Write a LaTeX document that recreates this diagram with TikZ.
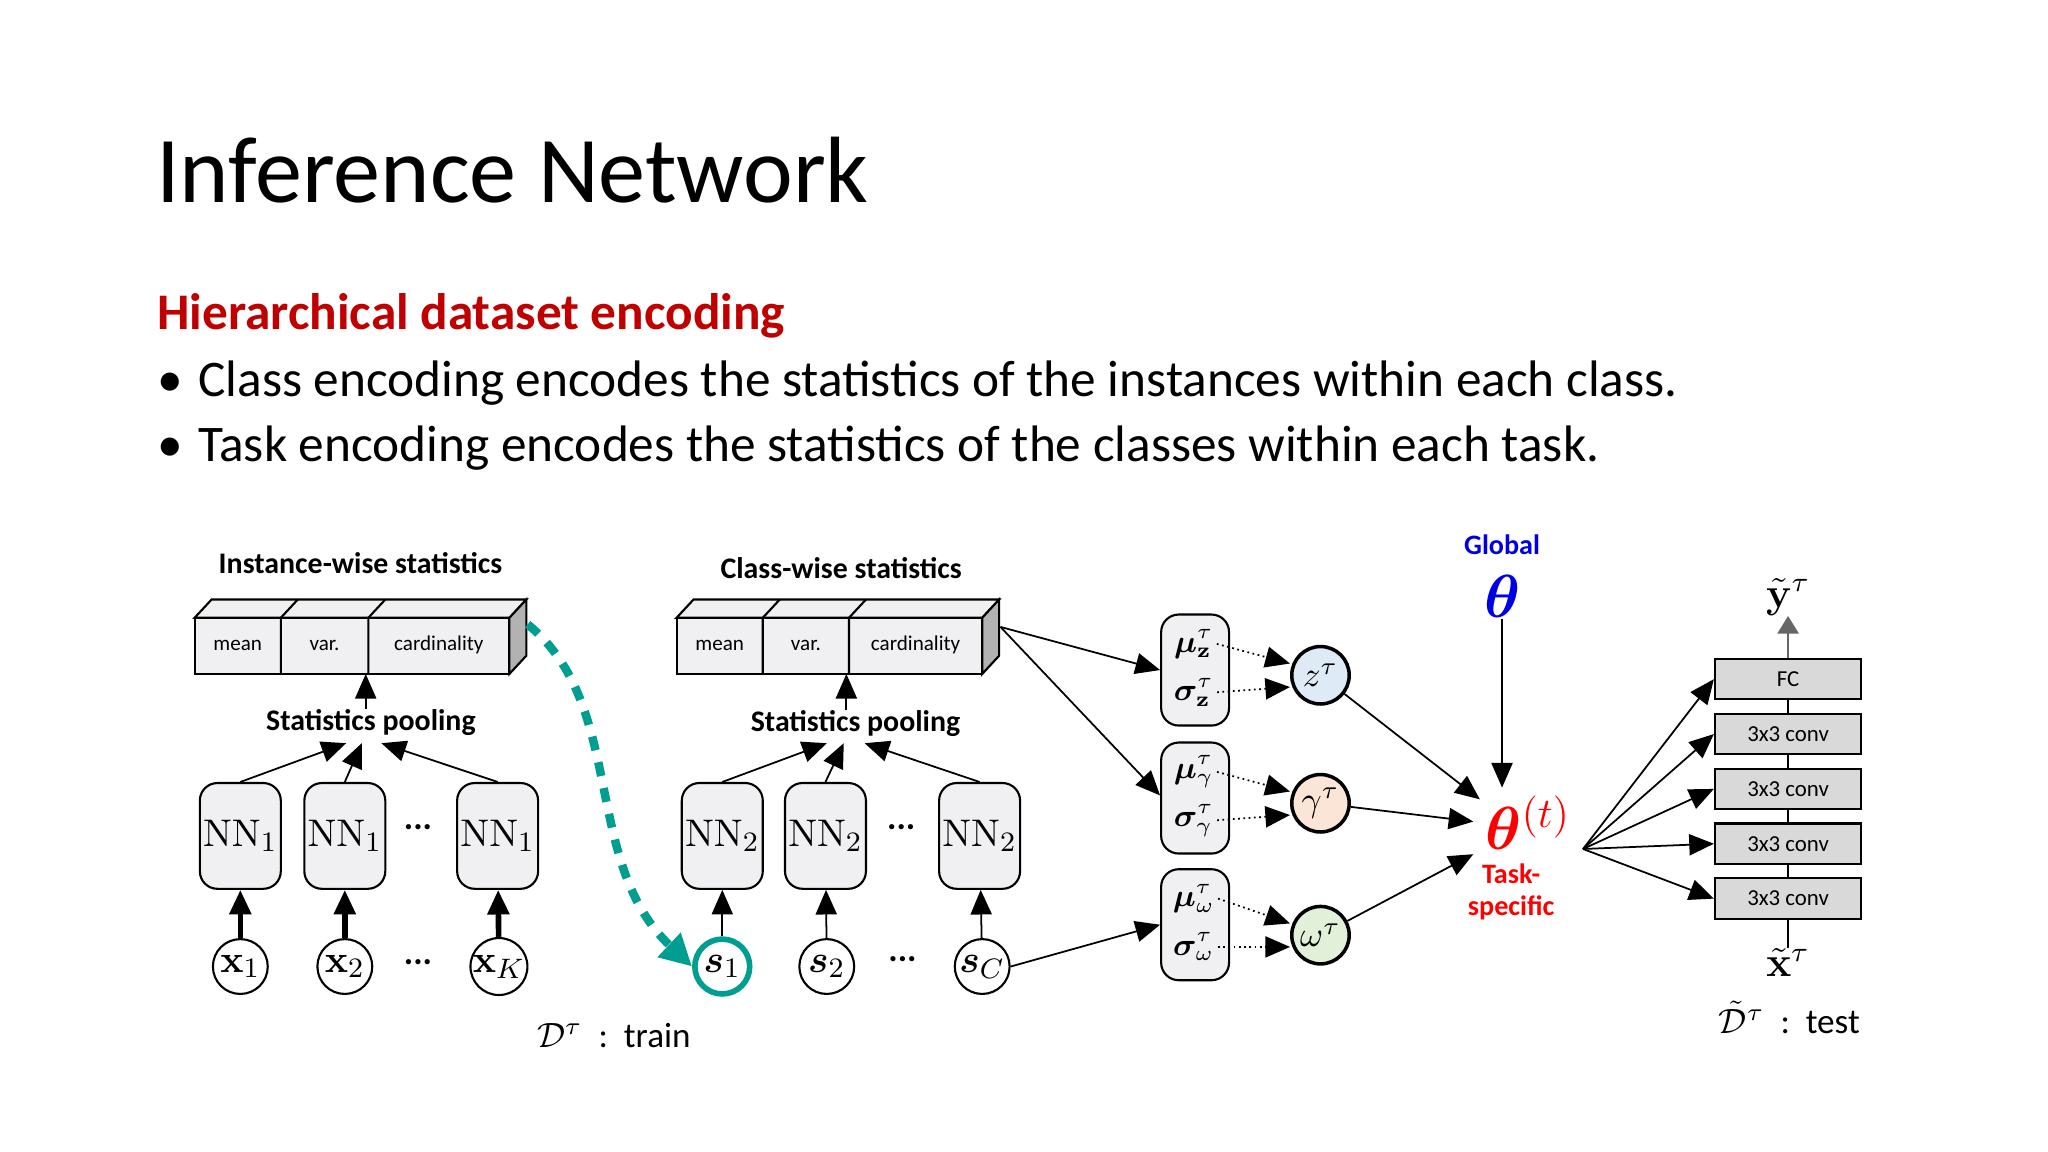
\documentclass[tikz,border=0pt]{standalone}
\usepackage{amsmath,bm}
\usepackage[no-math]{fontspec}
\setmainfont{Carlito}
\usetikzlibrary{arrows.meta,calc}
\definecolor{boxgray}{RGB}{240,240,242}
\definecolor{convgray}{RGB}{217,217,217}
\definecolor{teal}{RGB}{0,158,145}
\definecolor{zfill}{RGB}{222,235,247}
\definecolor{gfill}{RGB}{251,229,214}
\definecolor{wfill}{RGB}{226,240,217}
\definecolor{titlered}{RGB}{192,0,0}
\definecolor{blueg}{RGB}{0,0,230}
\begin{document}
\begin{tikzpicture}[x=0.01306cm,y=-0.01306cm,
  arr/.style={-{Triangle[length=7pt,width=6pt]},line width=0.5pt},
  nn/.style={draw,fill=boxgray,rounded corners=5pt,minimum width=62*0.3716pt,minimum height=81*0.3716pt,inner sep=0pt,font=\fontsize{11}{11}\selectfont,line width=0.6pt},
  var/.style={draw,circle,minimum size=42*0.3716pt,inner sep=0pt,font=\fontsize{11}{11}\selectfont,line width=0.6pt},
  gauss/.style={draw,fill=boxgray,rounded corners=5pt,minimum width=52*0.3716pt,minimum height=85*0.3716pt,inner sep=0pt,line width=0.6pt},
  lat/.style={draw,circle,minimum size=44*0.3716pt,inner sep=0pt,font=\fontsize{10}{10}\selectfont,line width=1pt},
  layer/.style={draw,fill=convgray,minimum width=112*0.3716pt,minimum height=31*0.3716pt,inner sep=0pt,font=\fontsize{6.5}{7}\selectfont,line width=0.6pt},
  lbl/.style={font=\bfseries\fontsize{8.5}{9}\selectfont,inner sep=0pt},
  cell/.style={font=\fontsize{6}{7}\selectfont,inner sep=0pt},
  dots/.style={font=\fontsize{10}{10}\selectfont\bfseries,inner sep=0pt},
  gp/.style={inner sep=0pt,font=\fontsize{9}{9}\selectfont}]
\useasboundingbox[fill=white] (0,0) rectangle (1568,882);

% slide text
\node[anchor=west,inner sep=0pt,font=\fontsize{26.8}{27}\selectfont] (title) at (119,130) {Inference Network};
\node[anchor=west,inner sep=0pt,font=\bfseries\fontsize{14.6}{15}\selectfont,text=titlered] (sub) at (120,242) {Hierarchical dataset encoding};
\node[anchor=west,inner sep=0pt,font=\fontsize{14.6}{15}\selectfont] (b1) at (120,293) {\textbullet\hspace{0.3em}Class encoding encodes the statistics of the instances within each class.};
\node[anchor=west,inner sep=0pt,font=\fontsize{14.6}{15}\selectfont] (b2) at (120,343) {\textbullet\hspace{0.3em}Task encoding encodes the statistics of the classes within each task.};

% statistics boxes
\foreach \n/\x/\a/\b/\r in {s1/149/215/282/390, s2/518/584/650/752}{
  \filldraw[fill=boxgray,line width=0.6pt] (\x,473) -- (\x+13,459) -- (\r+13,459) -- (\r,473) -- cycle;
  \filldraw[fill=gray!60,line width=0.6pt] (\r,473) -- (\r+13,459) -- (\r+13,502) -- (\r,516) -- cycle;
  \filldraw[fill=boxgray,line width=0.6pt] (\x,473) rectangle (\r,516);
  \draw[line width=0.6pt] (\a,473) -- (\a,516) (\b,473) -- (\b,516) (\a,473) -- (\a+13,459) (\b,473) -- (\b+13,459);
  \node[cell] (\n m) at ({(\x+\a)/2},494) {mean};
  \node[cell] (\n v) at ({(\a+\b)/2},494) {var.};
  \node[cell] (\n c) at ({(\b+\r)/2},494) {cardinality};
  \coordinate (\n bot) at (\b-2,516);
}
\node[lbl] (inst) at (276,431) {Instance-wise statistics};
\node[lbl] (cls) at (644,435) {Class-wise statistics};
\node[lbl] (pool1) at (284,553) {Statistics pooling};
\node[lbl] (pool2) at (655,554) {Statistics pooling};
\draw[arr] (pool1.north -| s1bot) -- (s1bot);
\draw[arr] (pool2.north -| s2bot) -- (s2bot);

% NN blocks and inputs
\node[nn] (n1) at (184,640) {$\mathrm{NN}_1$};
\node[nn] (n2) at (264,640) {$\mathrm{NN}_1$};
\node[nn] (n3) at (381,640) {$\mathrm{NN}_1$};
\node[nn] (m1) at (553,640) {$\mathrm{NN}_2$};
\node[nn] (m2) at (632,640) {$\mathrm{NN}_2$};
\node[nn] (m3) at (750,640) {$\mathrm{NN}_2$};
\node[dots] (d1) at (320,633) {...};
\node[dots] (d2) at (690,633) {...};
\node[var] (x1) at (184,740) {$\mathbf{x}_1$};
\node[var] (x2) at (264,740) {$\mathbf{x}_2$};
\node[var] (x3) at (382,740) {$\mathbf{x}_K$};
\node[var,draw=teal,line width=1.6pt] (c1) at (553,740) {$\bm{s}_1$};
\node[var] (c2) at (633,740) {$\bm{s}_2$};
\node[var] (c3) at (752,740) {$\bm{s}_C$};
\node[dots] (d3) at (320,737) {...};
\node[dots] (d4) at (691,734) {...};
\foreach \i in {1,2,3}{
  \draw[arr,line width=1.6pt] (x\i) -- (n\i);
  \draw[arr] (c\i) -- (m\i);
}
\coordinate (p1a) at (265,569); \coordinate (p1b) at (277,569); \coordinate (p1c) at (292,569);
\coordinate (p2a) at (633,569); \coordinate (p2b) at (646,569); \coordinate (p2c) at (662,569);
\draw[arr] (n1.north) -- (p1a);
\draw[arr] (n2.north) -- (p1b);
\draw[arr] (n3.north) -- (p1c);
\draw[arr] (m1.north) -- (p2a);
\draw[arr] (m2.north) -- (p2b);
\draw[arr] (m3.north) -- (p2c);

% teal dashed link
\coordinate (tstart) at (404,478);
\draw[teal,line width=2.4pt,dash pattern=on 4pt off 3.5pt,-{Triangle[length=9pt,width=9pt]}] (tstart) .. controls (480,540) and (445,660) .. (c1.west);
\node[inner sep=0pt,font=\fontsize{10}{10}\selectfont] (train) at (470,793) {$\mathcal{D}^\tau$\ \ :\ \ train};

% gaussian parameter boxes
\node[gauss] (gz) at (915,513) {};
\node[gauss] (gg) at (915,611) {};
\node[gauss] (gw) at (915,708) {};
\foreach \g/\s in {z/\mathbf{z},g/\gamma,w/\omega}{
  \node[gp] (mu\g) at ($(g\g)+(-1,-20)$) {$\bm{\mu}^\tau_{\s}$};
  \node[gp] (si\g) at ($(g\g)+(-1,17)$) {$\bm{\sigma}^\tau_{\s}$};
}
\node[lat,fill=zfill] (z) at (1011,517) {$z^\tau$};
\node[lat,fill=gfill] (g) at (1011,615) {$\gamma^\tau$};
\node[lat,fill=wfill] (w) at (1011,716) {$\omega^\tau$};
\foreach \g in {z,g,w}{
  \draw[arr,densely dotted] ($(mu\g.east)+(2,0)$) -- ($(\g.west)+(0,-9)$);
  \draw[arr,densely dotted] ($(si\g.east)+(2,0)$) -- ($(\g.west)+(0,9)$);
}
\coordinate (s2corner) at (766,480);
\draw[arr] (s2corner) -- (gz.west);
\draw[arr] (s2corner) -- ($(gg.west)+(0,-2)$);
\draw[arr] (c3.east) -- (gw.west);

% theta
\node[inner sep=0pt,font=\bfseries\fontsize{8}{9}\selectfont,text=blueg] (glob) at (1150,417) {Global};
\node[inner sep=0pt,font=\fontsize{17}{17}\selectfont,text=blueg] (th) at (1150,457) {$\bm{\theta}$};
\node[inner sep=1pt,font=\fontsize{17}{17}\selectfont,text=red] (tht) at (1170,630) {$\bm{\theta}^{(t)}$};
\node[inner sep=0pt,font=\bfseries\fontsize{8}{9}\selectfont,text=red,align=center] (ts) at (1157,683) {Task-\\specific};
\coordinate (tin) at (1150,603);
\draw[arr] (th) -- (tin);
\draw[arr] (z) -- (1133,612);
\draw[arr] (g) -- (1128,629);
\draw[arr] (w) -- (1128,654);

% network stack
\node[layer] (fc) at (1369,520) {FC};
\node[layer] (l1) at (1369,562) {3x3 conv};
\node[layer] (l2) at (1369,604) {3x3 conv};
\node[layer] (l3) at (1369,646) {3x3 conv};
\node[layer] (l4) at (1369,688) {3x3 conv};
\node[inner sep=0pt,font=\fontsize{12}{12}\selectfont] (yt) at (1369,457) {$\tilde{\mathbf{y}}^\tau$};
\node[inner sep=0pt,font=\fontsize{12}{12}\selectfont] (xt) at (1369,737) {$\tilde{\mathbf{x}}^\tau$};
\node[inner sep=0pt,font=\fontsize{10}{10}\selectfont] (test) at (1370,779) {$\tilde{\mathcal{D}}^\tau$\ \ :\ \ test};
\draw[line width=0.6pt] (xt.north) -- (l4.south) (l4.north) -- (l3.south) (l3.north) -- (l2.south) (l2.north) -- (l1.south) (l1.north) -- (fc.south);
\draw[line width=0.6pt,-{Triangle[length=5pt,width=6pt]},draw=gray!80!black] (fc.north) -- (yt.south);
\coordinate (fan) at (1212,650);
\foreach \l in {fc,l1,l2,l3,l4}{ \draw[arr] (fan) -- (\l.west); }
\end{tikzpicture}
\end{document}
